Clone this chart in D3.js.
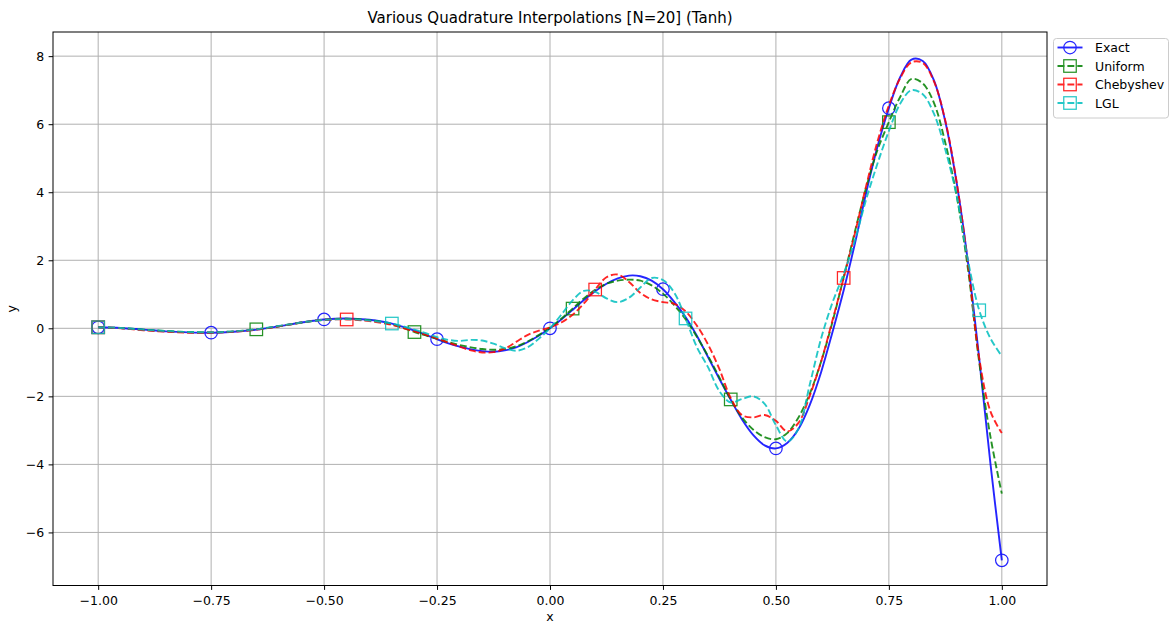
<!DOCTYPE html>
<html>
<head>
<meta charset="utf-8">
<script src="https://cdn.jsdelivr.net/npm/d3@7"></script>
<style>
    body { margin: 0; background: #fff; }
    svg { display: block; font-family: "DejaVu Sans", sans-serif; }
</style>
</head>
<body>
<svg id="chart" width="1170" height="623"></svg>
<script>
// x positions the curves were read at (finer where the interpolants wiggle)
const xs = [
    -1, -0.95, -0.9, -0.85, -0.8, -0.75, -0.7, -0.65, -0.6, -0.55, -0.5, -0.45, -0.4, -0.35, -0.3,
    -0.275, -0.25, -0.225, -0.2, -0.175, -0.15, -0.125, -0.1, -0.075, -0.05, -0.025,
    0, 0.025, 0.05, 0.075, 0.1, 0.125, 0.15, 0.175, 0.2, 0.225, 0.25, 0.275,
    0.3, 0.325, 0.35, 0.375, 0.4, 0.425, 0.45, 0.475, 0.5, 0.525, 0.55, 0.575,
    0.6, 0.625, 0.65, 0.675, 0.7, 0.725, 0.75, 0.775, 0.8, 0.825, 0.85, 0.875,
    0.9, 0.925, 0.95, 0.975, 1
];

const exactY = [
    0.03, 0.01, -0.04, -0.09, -0.12, -0.13, -0.10, -0.04, 0.06, 0.17, 0.26, 0.29, 0.25, 0.14, -0.07,
    -0.19, -0.32, -0.44, -0.54, -0.62, -0.67, -0.69, -0.65, -0.56, -0.41, -0.22,
    0, 0.26, 0.54, 0.83, 1.09, 1.31, 1.47, 1.55, 1.53, 1.40, 1.15, 0.78,
    0.33, -0.22, -0.85, -1.49, -2.10, -2.68, -3.14, -3.44, -3.53, -3.37, -2.96, -2.25,
    -1.29, -0.12, 1.12, 2.50, 4.00, 5.35, 6.47, 7.38, 7.90, 7.86, 7.28, 6.07,
    4.28, 1.95, -0.89, -4.00, -6.82
];

const uniformY = [
    0.03, 0.01, -0.04, -0.08, -0.11, -0.12, -0.09, -0.03, 0.06, 0.17, 0.25, 0.28, 0.24, 0.12, -0.11,
    -0.21, -0.31, -0.41, -0.49, -0.56, -0.61, -0.63, -0.61, -0.53, -0.39, -0.20,
    0.02, 0.28, 0.58, 0.88, 1.13, 1.31, 1.40, 1.43, 1.40, 1.26, 1.02, 0.68,
    0.27, -0.25, -0.82, -1.45, -2.09, -2.62, -2.98, -3.20, -3.26, -3.08, -2.62, -1.92,
    -0.98, 0.18, 1.50, 2.85, 4.15, 5.25, 6.06, 6.80, 7.33, 7.20, 6.62, 5.45,
    3.90, 1.75, -1.00, -3.20, -4.86
];

const chebyshevY = [
    0.03, 0.00, -0.06, -0.10, -0.13, -0.13, -0.10, -0.04, 0.06, 0.17, 0.25, 0.26, 0.21, 0.10, -0.09,
    -0.19, -0.30, -0.42, -0.54, -0.65, -0.71, -0.70, -0.60, -0.40, -0.20, -0.07,
    0.03, 0.17, 0.40, 0.73, 1.14, 1.50, 1.58, 1.36, 1.04, 0.85, 0.77, 0.72,
    0.50, 0.08, -0.48, -1.20, -2.05, -2.55, -2.62, -2.55, -2.72, -3.03, -2.78, -1.98,
    -0.98, 0.22, 1.48, 2.80, 4.20, 5.50, 6.55, 7.35, 7.82, 7.80, 7.25, 6.10,
    4.30, 1.92, -0.88, -2.45, -3.08
];

const lglY = [
    0.03, 0.01, -0.04, -0.08, -0.11, -0.12, -0.09, -0.03, 0.07, 0.17, 0.25, 0.27, 0.23, 0.14, -0.04,
    -0.14, -0.26, -0.34, -0.37, -0.34, -0.36, -0.45, -0.58, -0.66, -0.56, -0.31,
    0.00, 0.40, 0.82, 1.10, 1.07, 0.88, 0.77, 0.90, 1.20, 1.48, 1.42, 1.05,
    0.29, -0.55, -1.15, -1.85, -2.18, -2.08, -2.00, -2.22, -2.85, -3.33, -2.95, -1.65,
    -0.30, 0.75, 1.60, 2.60, 3.80, 4.85, 5.80, 6.60, 7.00, 6.88, 6.30, 5.25,
    3.90, 2.00, 0.53, -0.30, -0.82
];

// x positions where each method shows a marker
const exactMarks = [-1, -0.75, -0.5, -0.25, 0, 0.25, 0.5, 0.75, 1];
const uniformMarks = [-1, -0.65, -0.3, 0.05, 0.4, 0.75];
const chebyshevMarks = [-1, -0.45, 0.1, 0.65];
const lglMarks = [-1, -0.35, 0.3, 0.95];

const xTicks = [-1, -0.75, -0.5, -0.25, 0, 0.25, 0.5, 0.75, 1];
const yTicks = [-6, -4, -2, 0, 2, 4, 6, 8];

const series = [
    { name: "Exact", values: exactY, marks: exactMarks, color: "#0000ff", marker: "circle", dash: null },
    { name: "Uniform", values: uniformY, marks: uniformMarks, color: "#008000", marker: "square", dash: "6.9,3" },
    { name: "Chebyshev", values: chebyshevY, marks: chebyshevMarks, color: "#ff0000", marker: "square", dash: "6.9,3" },
    { name: "LGL", values: lglY, marks: lglMarks, color: "#00bfbf", marker: "square", dash: "6.9,3" },
];

const box = { left: 53, right: 1047, top: 32, bottom: 585.5 };
const svg = d3.select("#chart");

const x = d3.scaleLinear().domain([-1.1, 1.1]).range([box.left, box.right]);
// matplotlib limits: data range plus 5% margin
const y = d3.scaleLinear().domain([-7.56, 8.71]).range([box.bottom, box.top]);

const fmt = (f) => (d) => d3.format(f)(d).replace("-", "\u2212");

/**
 * Grid lines behind everything
 */
function drawGrid() {
    const g = svg.append("g").attr("stroke", "#b0b0b0").attr("stroke-width", 1);
    g.selectAll("line.vx")
        .data(xTicks)
        .enter()
        .append("line")
        .attr("x1", (d) => x(d))
        .attr("x2", (d) => x(d))
        .attr("y1", box.top)
        .attr("y2", box.bottom);
    g.selectAll("line.hy")
        .data(yTicks)
        .enter()
        .append("line")
        .attr("x1", box.left)
        .attr("x2", box.right)
        .attr("y1", (d) => y(d))
        .attr("y2", (d) => y(d));
}

function drawAxes() {
    const xAxis = svg
        .append("g")
        .attr("transform", `translate(0,${box.bottom})`)
        .call(d3.axisBottom(x).tickValues(xTicks).tickFormat(fmt(".2f")).tickSize(4.4).tickPadding(4.4).tickSizeOuter(0));
    const yAxis = svg
        .append("g")
        .attr("transform", `translate(${box.left},0)`)
        .call(d3.axisLeft(y).tickValues(yTicks).tickFormat(fmt("d")).tickSize(4.4).tickPadding(4.4).tickSizeOuter(0));

    [xAxis, yAxis].map((a) => {
        a.attr("font-family", null).attr("font-size", 12.5);
        a.select(".domain").remove();
        a.selectAll("text").attr("fill", "#000");
        a.selectAll("line").attr("stroke", "#000").attr("stroke-width", 1);
    });
    xAxis.selectAll("text").attr("dy", "0.82em");

    svg.append("rect")
        .attr("x", box.left)
        .attr("y", box.top)
        .attr("width", box.right - box.left)
        .attr("height", box.bottom - box.top)
        .attr("fill", "none")
        .attr("stroke", "#000")
        .attr("stroke-width", 1);

    svg.append("text")
        .attr("x", (box.left + box.right) / 2)
        .attr("y", 22.5)
        .attr("text-anchor", "middle")
        .attr("font-size", 15)
        .text("Various Quadrature Interpolations [N=20] (Tanh)");

    svg.append("text")
        .attr("x", (box.left + box.right) / 2)
        .attr("y", 621)
        .attr("text-anchor", "middle")
        .attr("font-size", 12.5)
        .text("x");

    svg.append("text")
        .attr("transform", `translate(16,${(box.top + box.bottom) / 2}) rotate(-90)`)
        .attr("text-anchor", "middle")
        .attr("font-size", 12.5)
        .text("y");
}

/**
 * One marker (circle or square) centred at cx, cy
 */
function addMarker(g, s, cx, cy) {
    if (s.marker === "circle") {
        g.append("circle").attr("cx", cx).attr("cy", cy).attr("r", 6.25);
    } else {
        g.append("rect").attr("x", cx - 6.25).attr("y", cy - 6.25).attr("width", 12.5).attr("height", 12.5);
    }
}

function drawSeries() {
    const line = d3
        .line()
        .x((d, i) => x(xs[i]))
        .y((d) => y(d))
        .curve(d3.curveCatmullRom.alpha(0.5));

    series.map((s) => {
        const g = svg.append("g").attr("opacity", 0.85);
        g.append("path")
            .attr("d", line(s.values))
            .attr("fill", "none")
            .attr("stroke", s.color)
            .attr("stroke-width", 1.9)
            .attr("stroke-dasharray", s.dash);

        const mg = g.append("g").attr("fill", "none").attr("stroke", s.color).attr("stroke-width", 1.25);
        s.marks.map((mx) => {
            const idx = xs.findIndex((v) => Math.abs(v - mx) < 1e-9);
            addMarker(mg, s, x(mx), y(s.values[idx]));
        });
    });
}

function drawLegend() {
    const lg = svg.append("g").attr("transform", "translate(1053.5,38.5)");
    lg.append("rect")
        .attr("width", 115)
        .attr("height", 79.5)
        .attr("rx", 3)
        .attr("fill", "#fff")
        .attr("fill-opacity", 0.8)
        .attr("stroke", "#cccccc")
        .attr("stroke-width", 1);

    const row = lg
        .selectAll("g.row")
        .data(series)
        .enter()
        .append("g")
        .attr("transform", (d, i) => `translate(0,${9 + i * 18.5})`);

    row.each(function (s) {
        const r = d3.select(this);
        const hg = r.append("g").attr("opacity", 0.85);
        hg.append("line")
            .attr("x1", 4)
            .attr("x2", 29)
            .attr("stroke", s.color)
            .attr("stroke-width", 1.9)
            .attr("stroke-dasharray", s.dash ? "6.9,3" : null);
        const mg = hg.append("g").attr("fill", "none").attr("stroke", s.color).attr("stroke-width", 1.25);
        addMarker(mg, s, 16.5, 0);
        r.append("text")
            .attr("x", 41.5)
            .attr("dy", "0.36em")
            .attr("font-size", 12.5)
            .text(s.name);
    });
}

drawGrid();
drawAxes();
drawSeries();
drawLegend();
</script>
</body>
</html>
